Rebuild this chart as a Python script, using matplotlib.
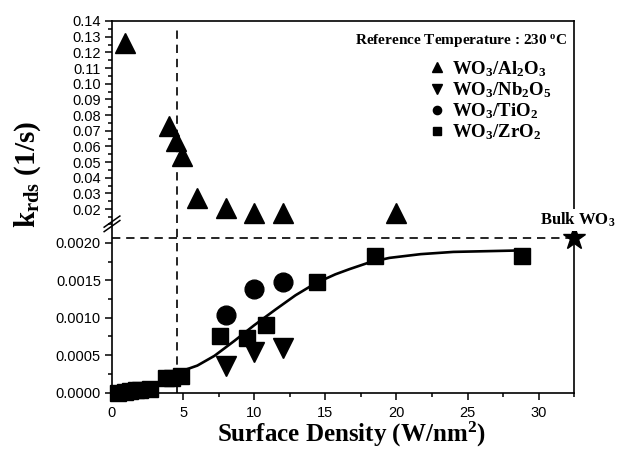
import numpy as np
import matplotlib
matplotlib.use("Agg")
import matplotlib.pyplot as plt
from matplotlib.ticker import FixedLocator, FuncFormatter

# ---------------- data ----------------
al_x = [0.9, 4.0, 4.5, 4.9, 6.0, 8.0, 10.0, 12.0, 20.0]
al_y = [0.126, 0.073, 0.0636, 0.054, 0.027, 0.0208, 0.0176, 0.0176, 0.0172]

nb_x = [8.0, 10.0, 12.0]
nb_y = [0.00036, 0.00054, 0.00060]

ti_x = [8.0, 10.0, 12.0]
ti_y = [0.00104, 0.00138, 0.00148]

zr_x = [0.45, 0.9, 1.3, 1.7, 2.0, 2.7, 3.8, 4.2, 4.85, 7.6, 9.5, 10.8, 14.4, 18.5, 28.8]
zr_y = [0.0, 0.00001, 0.00002, 0.00003, 0.00003, 0.00005, 0.00019, 0.00020, 0.00022,
        0.00075, 0.000725, 0.00090, 0.00148, 0.00183, 0.00183]

fit_x = [5.1, 6.0, 7.2, 8.6, 10.0, 11.5, 12.9, 14.3, 15.7, 16.7, 18.1, 19.5, 21.7, 24.0, 26.4, 28.8]
fit_y = [0.00030, 0.00036, 0.00049, 0.00069, 0.00090, 0.00111, 0.00130, 0.00146, 0.00158,
         0.00165, 0.00174, 0.00180, 0.00185, 0.00188, 0.00189, 0.00190]

bulk_x = [32.5]
bulk_y = [0.00207]
vline_x = 4.55

x_major = [0, 5, 10, 15, 20, 25, 30]
y_major_low = [0.0, 0.0005, 0.0010, 0.0015, 0.0020]
y_major_high = [0.02, 0.03, 0.04, 0.05, 0.06, 0.07, 0.08, 0.09, 0.10, 0.11, 0.12, 0.13, 0.14]

# ---------------- style ----------------
plt.rcParams['mathtext.fontset'] = 'custom'
plt.rcParams['mathtext.rm'] = 'Liberation Serif:bold'
plt.rcParams['mathtext.it'] = 'Liberation Serif:bold'
plt.rcParams['mathtext.bf'] = 'Liberation Serif:bold'
plt.rcParams['font.family'] = ['Liberation Sans', 'DejaVu Sans']

SERIF = dict(family='Liberation Serif', weight='bold')

# broken y scale (piecewise linear)
LOW_TOP = 0.0023
HIGH_BOT = 0.0127
Y_TOP = 0.14
FRAC = 0.463
EPS = 1e-9


def fwd(y):
    y = np.asarray(y, dtype=float)
    lo = y / LOW_TOP * FRAC
    hi = FRAC + EPS + (y - HIGH_BOT) / (Y_TOP - HIGH_BOT) * (1 - FRAC)
    mid = FRAC + (y - LOW_TOP) / (HIGH_BOT - LOW_TOP) * EPS
    return np.where(y <= LOW_TOP, lo, np.where(y >= HIGH_BOT, hi, mid))


def inv(t):
    t = np.asarray(t, dtype=float)
    lo = t / FRAC * LOW_TOP
    hi = HIGH_BOT + (t - FRAC - EPS) / (1 - FRAC) * (Y_TOP - HIGH_BOT)
    mid = LOW_TOP + (t - FRAC) / EPS * (HIGH_BOT - LOW_TOP)
    return np.where(t <= FRAC, lo, np.where(t >= FRAC + EPS, hi, mid))


fig = plt.figure(figsize=(6.17, 4.51), dpi=100)
ax = fig.add_axes([112 / 617, 1 - 392.5 / 451, 462.3 / 617, 371.5 / 451])
ax.set_yscale('function', functions=(fwd, inv))
ax.set_xlim(0, 32.5)
ax.set_ylim(0, Y_TOP)

# reference lines
ax.plot([0, bulk_x[0]], [bulk_y[0], bulk_y[0]], color='black', lw=1.2,
        ls=(0, (5, 3.5)), zorder=1)
ax.plot([vline_x, vline_x], [0, 0.1355], color='black', lw=1.2,
        ls=(0, (5, 3.5)), zorder=1)

# fit curve
ax.plot(fit_x, fit_y, color='black', lw=1.9, zorder=2)

# data
h_al, = ax.plot(al_x, al_y, ls='none', marker='^', ms=15, color='black', zorder=3,
                label=r'WO$_3$/Al$_2$O$_3$')
h_nb, = ax.plot(nb_x, nb_y, ls='none', marker='v', ms=15, color='black', zorder=3,
                label=r'WO$_3$/Nb$_2$O$_5$')
h_ti, = ax.plot(ti_x, ti_y, ls='none', marker='o', ms=13.5, color='black', zorder=3,
                label=r'WO$_3$/TiO$_2$')
h_zr, = ax.plot(zr_x, zr_y, ls='none', marker='s', ms=12, color='black', zorder=3,
                clip_on=False, label=r'WO$_3$/ZrO$_2$')
ax.plot(bulk_x, bulk_y, ls='none', marker='*', ms=17, color='black', zorder=6,
        clip_on=False)

# ticks
ax.xaxis.set_major_locator(FixedLocator(x_major))
ax.xaxis.set_minor_locator(FixedLocator([v + 2.5 for v in x_major]))
ax.set_xticklabels([str(v) for v in x_major])

ymaj = y_major_low + y_major_high
ax.yaxis.set_major_locator(FixedLocator(ymaj))
ymin_low = [v + 0.00025 for v in y_major_low]
ymin_high = [0.015] + [v + 0.005 for v in y_major_high[:-1]]
ax.yaxis.set_minor_locator(FixedLocator(ymin_low + ymin_high))
ax.yaxis.set_major_formatter(FuncFormatter(
    lambda v, p: f'{v:.4f}' if v < 0.005 else f'{v:.2f}'))
ax.yaxis.set_minor_formatter(FuncFormatter(lambda v, p: ''))

ax.tick_params(axis='both', which='major', direction='out', length=5, width=1.1,
               labelsize=10.5, pad=3)
ax.tick_params(axis='both', which='minor', direction='out', length=3, width=1.1)
ax.tick_params(axis='x', pad=5)
for s in ax.spines.values():
    s.set_linewidth(1.2)

# break mark on left spine
for dy in (0.0, -0.012):
    ax.plot([-0.017, 0.017], [0.445 + dy, 0.475 + dy], transform=ax.transAxes,
            color='black', lw=1.1, clip_on=False, zorder=7)

# labels
ax.set_xlabel(r'Surface Density (W/nm$^2$)', fontsize=18, **SERIF)
ax.xaxis.set_label_coords(0.517, -0.114)
ax.xaxis.label.set_va('center')
ax.set_ylabel(r'k$_{\mathrm{rds}}$ (1/s)', fontsize=21, **SERIF)
ax.yaxis.set_label_coords(-0.182, 0.588)
ax.yaxis.label.set_va('center')

# title text + legend
ax.text(0.984, 0.938, r'Reference Temperature : 230 $^{\mathrm{o}}$C',
        transform=ax.transAxes, ha='right', va='baseline', fontsize=11, **SERIF)
leg = ax.legend(handles=[h_al, h_nb, h_ti, h_zr], loc='upper left',
                bbox_to_anchor=(0.687, 0.898), frameon=False, markerscale=0.44,
                handlelength=0.8, handletextpad=0.4, borderpad=0, borderaxespad=0,
                labelspacing=0.08,
                prop=dict(family='Liberation Serif', weight='bold', size=13.5))

ax.text(1.008, 0.451, r'Bulk WO$_3$', transform=ax.transAxes, ha='center',
        va='baseline', fontsize=12, zorder=8,
        bbox=dict(facecolor='white', edgecolor='none', pad=1.5), **SERIF)

fig.savefig('out.png', dpi=100)
